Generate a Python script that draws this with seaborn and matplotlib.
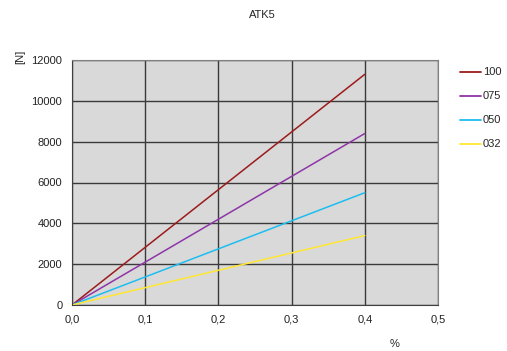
import matplotlib
matplotlib.use("Agg")
import matplotlib.pyplot as plt
import seaborn as sns
import pandas as pd

# strain [%] vs force [N] per type
strain = [0.0, 0.4]
series = {
    '100': [0, 11300],
    '075': [0, 8400],
    '050': [0, 5500],
    '032': [0, 3400],
}
colors = ['#9B1B1B', '#8E35A8', '#1EBDF0', '#FFE733']
xticks = [0.0, 0.1, 0.2, 0.3, 0.4, 0.5]
xticklabels = ['0,0', '0,1', '0,2', '0,3', '0,4', '0,5']
yticks = [0, 2000, 4000, 6000, 8000, 10000, 12000]

rows = []
for name, vals in series.items():
    for x, y in zip(strain, vals):
        rows.append((name, x, y))
df = pd.DataFrame(rows, columns=['type', 'strain', 'force'])

sns.set_style('white')
plt.rcParams['font.family'] = ['Liberation Sans', 'DejaVu Sans']
plt.rcParams['font.size'] = 8

fig = plt.figure(figsize=(5.07, 3.51), dpi=100)
ax = fig.add_axes([72 / 507, 1 - 305 / 351, 366 / 507, 245 / 351])
ax.set_facecolor('#D9D9D9')

sns.lineplot(data=df, x='strain', y='force', hue='type', palette=colors,
             linewidth=1.1, ax=ax, legend=False)

ax.set_xlim(0, 0.5)
ax.set_ylim(0, 12000)
ax.set_xticks(xticks)
ax.set_xticklabels(xticklabels)
ax.set_yticks(yticks)
ax.grid(True, color='#3a3a3a', linewidth=1.0)
ax.set_axisbelow(True)
for s in ['top', 'right']:
    ax.spines[s].set_color('#808080')
for s in ['left', 'bottom']:
    ax.spines[s].set_color('#404040')
ax.tick_params(direction='out', length=4, width=0.8, color='#404040',
               labelsize=8, labelcolor='#222222', pad=3)
ax.set_xlabel('')
ax.set_ylabel('')

fig.text(262 / 507, 1 - 15 / 351, 'ATK5', ha='center', va='center', fontsize=8)
fig.text(20 / 507, 1 - 57 / 351, '[N]', ha='center', va='center', fontsize=8, rotation=90)
fig.text(395 / 507, 1 - 344 / 351, '%', ha='center', va='center', fontsize=8)

# legend on the right
for i, (name, c) in enumerate(zip(series.keys(), colors)):
    yy = 1 - (72 + i * 24) / 351
    fig.add_artist(plt.Line2D([460 / 507, 481 / 507], [yy, yy], color=c, linewidth=1.3,
                              transform=fig.transFigure))
    fig.text(483 / 507, yy, name, ha='left', va='center', fontsize=8)

fig.savefig('out.png', dpi=100)
